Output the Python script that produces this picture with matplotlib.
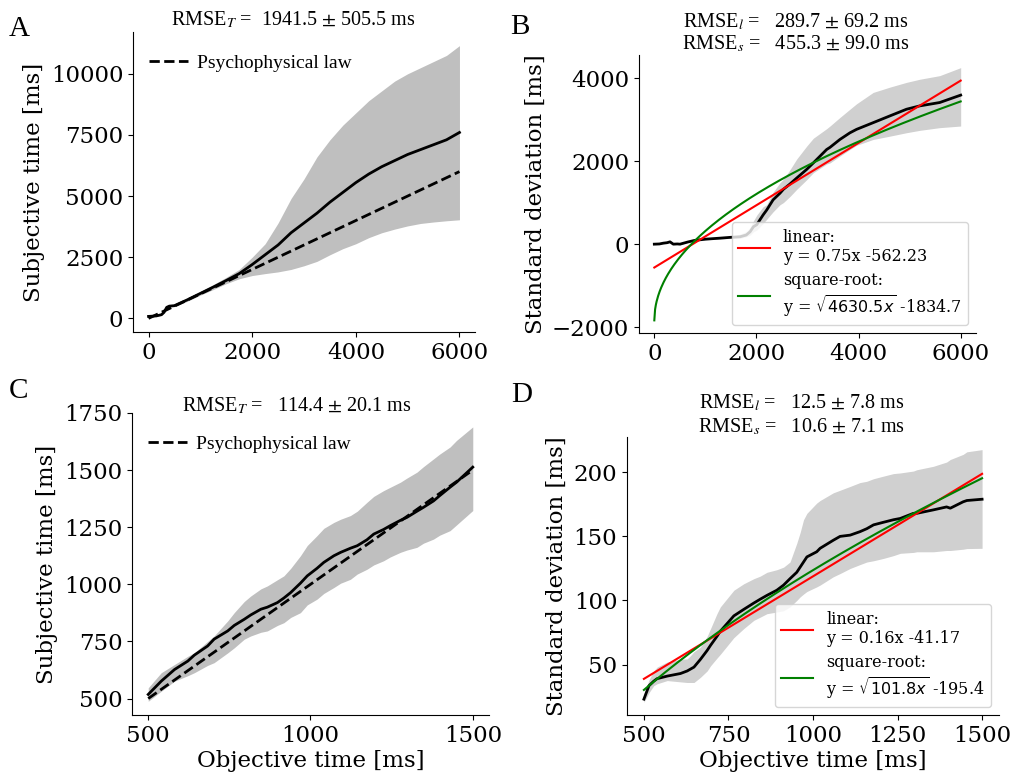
import numpy as np
import matplotlib
matplotlib.use("Agg")
import matplotlib.pyplot as plt
from matplotlib.font_manager import FontProperties

plt.rcParams["font.family"] = "DejaVu Serif"
plt.rcParams["font.size"] = 16.5

# ---------------- Panel A: subjective time, long range ----------------
a_x = [0, 150, 250, 300, 350, 400, 500, 750, 1000, 1250, 1500, 1750, 2000,
       2250, 2500, 2750, 3000, 3250, 3500, 3750, 4000, 4250, 4500, 4750,
       5000, 5250, 5500, 5750, 6000]
a_mean = [80, 100, 150, 250, 450, 500, 520, 760, 1020, 1280, 1550, 1830, 2200,
          2600, 3000, 3500, 3900, 4300, 4750, 5150, 5550, 5900, 6200, 6450,
          6700, 6900, 7100, 7300, 7600]
a_upper = [100, 120, 170, 280, 480, 530, 560, 820, 1100, 1380, 1680, 2000, 2500,
           3050, 3900, 4900, 5700, 6600, 7300, 7900, 8400, 8900, 9300, 9700,
           10000, 10250, 10500, 10750, 11150]
a_lower = [60, 80, 130, 220, 420, 470, 480, 700, 950, 1180, 1420, 1620, 1750,
           1830, 1900, 2000, 2150, 2330, 2600, 2850, 3050, 3300, 3500, 3650,
           3780, 3880, 3940, 3990, 4030]
a_law_x = [0, 6000]
a_law_y = [0, 6000]
a_rmse = (1941.5, 505.5)

# ---------------- Panel B: standard deviation, long range ----------------
b_x = [0, 100, 176, 250, 307, 372, 450, 503, 650, 783,
       1000, 1290, 1500, 1680, 1800, 1876, 1941, 2007, 2130, 2202,
       2326, 2462, 2527, 2658, 2789, 2984, 3114, 3375, 3440, 3635,
       3830, 3961, 4286, 4612, 4938, 5198, 5589, 6000]
b_mean = [0, 5, 24, 35, 56, 0, 5, 0, 50, 89,
          120, 145, 165, 178, 220, 299, 420, 470, 703, 824,
          1067, 1228, 1320, 1450, 1592, 1800, 1956, 2279, 2330, 2521,
          2680, 2764, 2925, 3087, 3248, 3329, 3410, 3588]
b_upper = [12, 17, 36, 47, 68, 12, 17, 12, 62, 101,
           135, 165, 190, 240, 300, 400, 560, 700, 900, 950,
           1250, 1480, 1560, 1794, 2050, 2360, 2550, 2780, 2844, 3050,
           3248, 3380, 3653, 3780, 3895, 3970, 4057, 4250]
b_lower = [-12, -7, 12, 23, 44, -12, -7, -12, 38, 77,
           105, 125, 140, 140, 180, 220, 300, 340, 500, 600,
           780, 950, 1000, 1150, 1320, 1552, 1720, 1930, 1956, 2120,
           2279, 2380, 2521, 2600, 2683, 2740, 2805, 2844]
b_lin = (0.75, -562.23)
b_sqrt = (4630.5, -1834.7)
b_rmse_l = (289.7, 69.2)
b_rmse_s = (455.3, 99.0)

# ---------------- Panel C: subjective time, short range ----------------
c_x = [500, 540, 581, 622, 642, 683, 703, 745, 765, 796, 816, 847, 867, 898,
       918, 939, 969, 990, 1020, 1041, 1072, 1093, 1123, 1144, 1174, 1195,
       1225, 1246, 1277, 1297, 1328, 1348, 1379, 1398, 1430, 1450, 1500]
c_mean = [518, 576, 627, 664, 690, 730, 760, 796, 820, 847, 866, 891, 900, 920,
          940, 964, 1005, 1037, 1070, 1096, 1125, 1140, 1158, 1169, 1195, 1220,
          1240, 1257, 1280, 1293, 1320, 1337, 1365, 1388, 1425, 1447, 1513]
c_upper = [547, 613, 649, 685, 700, 750, 774, 840, 876, 925, 949, 980, 993, 1020,
           1037, 1070, 1125, 1170, 1213, 1245, 1271, 1285, 1301, 1320, 1359, 1385,
           1410, 1425, 1447, 1465, 1491, 1515, 1549, 1570, 1601, 1630, 1689]
c_lower = [488, 532, 576, 600, 613, 645, 657, 700, 722, 760, 774, 790, 796, 820,
           832, 855, 876, 910, 935, 960, 986, 1005, 1022, 1045, 1066, 1085,
           1103, 1120, 1140, 1150, 1162, 1180, 1198, 1215, 1235, 1260, 1323]
c_law_x = [500, 1500]
c_law_y = [500, 1500]
c_rmse = (114.4, 20.1)

# ---------------- Panel D: standard deviation, short range ----------------
d_x = [500, 515, 529, 539, 569, 608, 628, 638, 648, 667, 687, 697, 716, 726,
       766, 795, 825, 844, 864, 893, 913, 932, 952, 962, 972, 982, 1011, 1021,
       1060, 1080, 1110, 1139, 1159, 1179, 1208, 1238, 1258, 1297, 1307, 1356,
       1395, 1406, 1444, 1455, 1500]
d_mean = [23, 33.5, 37, 39, 41, 43, 45, 46.5, 48, 54, 61, 65, 72, 76,
          88, 93, 98, 101, 104, 108, 112, 117, 122, 126, 130, 134, 138, 140.7,
          147, 150, 151, 153.7, 156, 159, 161, 163, 164, 168, 168, 170.7,
          173, 172, 177, 178, 179]
d_upper = [27, 38, 45, 48, 52, 54, 54.4, 57, 60, 63.6, 72, 78, 89.7, 95,
           108, 113, 117, 119, 122, 124, 126, 130, 144.6, 153, 163, 168, 176, 178,
           184, 186, 189, 192, 193, 195, 197, 199, 199.5, 201, 202, 204.7,
           208, 210, 214, 216, 217.7]
d_lower = [20.5, 28, 33.5, 35, 37.5, 36.5, 36, 36, 36, 40, 45, 49, 55, 58,
           71, 78, 84.5, 87, 89.7, 91, 92, 95, 100, 102.8, 105, 107, 110.6, 112,
           118.5, 121, 125, 128, 130, 131, 132.8, 135, 136.8, 137.5, 138, 138,
           139, 139, 140, 140.5, 140.7]
d_lin = (0.16, -41.17)
d_sqrt = (101.8, -195.4)
d_rmse_l = (12.5, 7.8)
d_rmse_s = (10.6, 7.1)

# ---------------- figure layout (pixel based) ----------------
W, H = 1014, 776
fig = plt.figure(figsize=(W / 100, H / 100), dpi=100)


def axes_px(left, top, right, bottom):
    return fig.add_axes([left / W, 1 - bottom / H, (right - left) / W, (bottom - top) / H])


def text_px(x, y, s, **kw):
    fig.text(x / W, 1 - y / H, s, **kw)


def style(ax):
    for side in ("top", "right"):
        ax.spines[side].set_visible(False)
    ax.tick_params(labelsize=16.5)


title_kw = dict(family="Liberation Serif", fontsize=14.5, math_fontfamily="stix",
                ha="center", va="baseline")
letter_kw = dict(family="Liberation Serif", fontsize=21, va="baseline")
law_prop = FontProperties(family="Liberation Serif", size=14)
fit_prop = FontProperties(family="DejaVu Serif", size=11.5, math_fontfamily="dejavusans")


def time_panel(ax, x, mean, lo, hi, lx, ly):
    ax.fill_between(x, lo, hi, color="#bfbfbf", lw=0)
    ax.plot(x, mean, color="black", lw=2)
    ax.plot(lx, ly, color="black", lw=2, ls="--", label="Psychophysical law")
    ax.legend(loc="upper left", frameon=False, prop=law_prop,
              handletextpad=0.5, bbox_to_anchor=(-0.005, 0.985))
    style(ax)


def sd_panel(ax, x, mean, lo, hi, lin, sq):
    ax.fill_between(x, lo, hi, color="#d0d0d0", lw=0)
    ax.plot(x, mean, color="black", lw=2)
    xs = np.linspace(x[0], x[-1], 400)
    ax.plot(xs, lin[0] * xs + lin[1], color="red", lw=1.5,
            label=f"linear:\ny = {lin[0]:.2f}x {lin[1]:.2f}")
    ax.plot(xs, np.sqrt(sq[0] * xs) + sq[1], color="green", lw=1.5,
            label=f"square-root:\ny = $\\sqrt{{{sq[0]:.1f}x}}$ {sq[1]:.1f}")
    ax.legend(loc="lower right", prop=fit_prop, borderaxespad=0.5,
              borderpad=0.4, labelspacing=0.4)
    style(ax)


# Panel A
axA = axes_px(133, 32, 475, 332)
time_panel(axA, a_x, a_mean, a_lower, a_upper, a_law_x, a_law_y)
axA.set_yticks([0, 2500, 5000, 7500, 10000])
axA.set_xticks([0, 2000, 4000, 6000])
axA.set_ylabel("Subjective time [ms]", fontsize=16.5)
text_px(293, 25, f"RMSE$_T$ =  {a_rmse[0]:.1f} $\\pm$ {a_rmse[1]:.1f} ms", **title_kw)
text_px(9, 36, "A", **letter_kw)

# Panel B
axB = axes_px(639, 55, 976, 333)
sd_panel(axB, b_x, b_mean, b_lower, b_upper, b_lin, b_sqrt)
axB.set_yticks([-2000, 0, 2000, 4000])
axB.set_xticks([0, 2000, 4000, 6000])
axB.set_ylabel("Standard deviation [ms]", fontsize=16.5)
text_px(796, 27, f"RMSE$_l$ =   {b_rmse_l[0]:.1f} $\\pm$ {b_rmse_l[1]:.1f} ms", **title_kw)
text_px(796, 49, f"RMSE$_s$ =   {b_rmse_s[0]:.1f} $\\pm$ {b_rmse_s[1]:.1f} ms", **title_kw)
text_px(510, 34, "B", **letter_kw)

# Panel C
axC = axes_px(132, 413, 489, 715)
time_panel(axC, c_x, c_mean, c_lower, c_upper, c_law_x, c_law_y)
axC.set_yticks([500, 750, 1000, 1250, 1500, 1750])
axC.set_xticks([500, 1000, 1500])
axC.set_ylabel("Subjective time [ms]", fontsize=16.5)
axC.set_xlabel("Objective time [ms]", fontsize=16.5, labelpad=2)
text_px(297, 411, f"RMSE$_T$ =   {c_rmse[0]:.1f} $\\pm$ {c_rmse[1]:.1f} ms", **title_kw)
text_px(9, 398, "C", **letter_kw)

# Panel D
axD = axes_px(627, 437, 999, 715)
sd_panel(axD, d_x, d_mean, d_lower, d_upper, d_lin, d_sqrt)
axD.set_yticks([50, 100, 150, 200])
axD.set_xticks([500, 750, 1000, 1250, 1500])
axD.set_ylabel("Standard deviation [ms]", fontsize=16.5)
axD.set_xlabel("Objective time [ms]", fontsize=16.5, labelpad=2)
text_px(802, 408, f"RMSE$_l$ =   {d_rmse_l[0]:.1f} $\\pm$ {d_rmse_l[1]:.1f} ms", **title_kw)
text_px(802, 432, f"RMSE$_s$ =   {d_rmse_s[0]:.1f} $\\pm$ {d_rmse_s[1]:.1f} ms", **title_kw)
text_px(511, 402, "D", **letter_kw)

fig.savefig("out.png", dpi=100)
